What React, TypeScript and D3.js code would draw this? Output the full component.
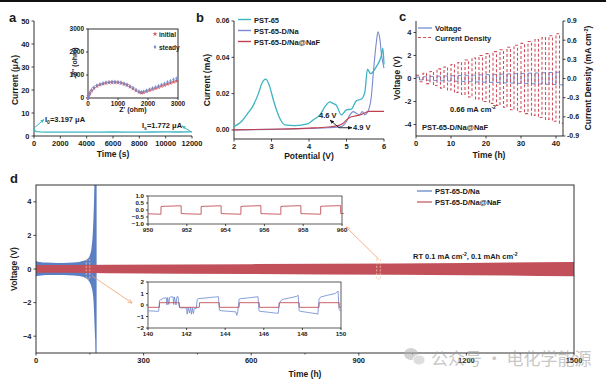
import React from "react";
import * as d3 from "d3";

const FONT = "'Liberation Sans', Arial, Helvetica, sans-serif";
const INK = "#1a1a1a";
const TEAL = "#3cb4c2";
const BLUE_B = "#7b88d0";
const RED_B = "#c0404e";
const BLUE = "#5b7fc4";
const RED = "#c2505a";

// ---------- Panel a ----------
const aTime = [0, 60, 200, 500, 1000, 2000, 3000, 4000, 5000, 6000, 7000, 8000, 9000, 10000, 11000, 11800, 12000];
const aCurrent = [3.197, 2.3, 1.9, 1.75, 1.7, 1.68, 1.7, 1.72, 1.7, 1.74, 1.72, 1.7, 1.74, 1.76, 1.75, 1.77, 1.772];
const aTicksX = [0, 2000, 4000, 6000, 8000, 10000, 12000];
const aTicksY = [0, 10, 20, 30, 40, 50];
const nyqTicks = [0, 1000, 2000, 3000];
const nyqZre = [0, 20, 60, 120, 200, 300, 400, 500, 600, 700, 800, 900, 1000, 1100, 1200, 1300, 1400, 1500, 1600, 1700, 1780, 1850, 1950, 2050, 2150, 2250, 2350, 2450, 2550, 2650, 2750, 2850, 2950];
const nyqInitial = [0, 90, 200, 320, 430, 520, 580, 620, 650, 670, 680, 680, 670, 650, 610, 560, 490, 410, 330, 260, 230, 250, 290, 340, 380, 420, 470, 520, 560, 610, 650, 700, 740];
const nyqSteady = [0, 100, 220, 340, 450, 540, 600, 640, 670, 690, 700, 700, 690, 670, 630, 580, 510, 430, 350, 280, 250, 270, 320, 370, 420, 470, 520, 580, 630, 690, 740, 800, 850];

// ---------- Panel b ----------
const bTicksX = [2, 3, 4, 5, 6];
const bTicksY = [0, 0.02, 0.04, 0.06];
const pst65V = [2.0, 2.2, 2.37, 2.5, 2.65, 2.75, 2.85, 2.95, 3.05, 3.15, 3.22, 3.36, 3.62, 3.98, 4.11, 4.29, 4.45, 4.55, 4.62, 4.73, 4.86, 5.0, 5.13, 5.26, 5.4, 5.49, 5.56, 5.64, 5.8, 5.93, 5.97, 6.0];
const pst65I = [0.0018, 0.0046, 0.0092, 0.013, 0.02, 0.026, 0.028, 0.024, 0.0165, 0.01, 0.0064, 0.0028, 0.0024, 0.0035, 0.0055, 0.0083, 0.0135, 0.0155, 0.0148, 0.0136, 0.0083, 0.011, 0.0115, 0.016, 0.017, 0.021, 0.0335, 0.031, 0.035, 0.041, 0.045, 0.036];
const dnaV = [2.0, 3.0, 4.0, 4.5, 4.75, 4.86, 5.0, 5.09, 5.18, 5.26, 5.35, 5.42, 5.49, 5.57, 5.66, 5.73, 5.8, 5.84, 5.89, 5.93, 5.97, 6.0];
const dnaI = [0.0, 0.0003, 0.0008, 0.0012, 0.0015, 0.0018, 0.0046, 0.0083, 0.0101, 0.0092, 0.0083, 0.0101, 0.0083, 0.0101, 0.018, 0.0349, 0.049, 0.054, 0.05, 0.042, 0.037, 0.034];
const nafV = [2.0, 3.0, 4.0, 4.5, 4.8, 4.9, 5.0, 5.1, 5.2, 5.3, 5.4, 5.5, 5.6, 5.7, 6.0];
const nafI = [0.0, 0.0004, 0.001, 0.0016, 0.0025, 0.0035, 0.0055, 0.007, 0.0075, 0.008, 0.0085, 0.0095, 0.0102, 0.0102, 0.0102];

// ---------- Panel c ----------
const cTicksX = [0, 10, 20, 30, 40];
const cTicksYL = [-4, -2, 0, 2, 4];
const cTicksYR = [-0.9, -0.6, -0.3, 0, 0.3, 0.6, 0.9];
const cCurrentAmp = [0.05, 0.08, 0.11, 0.15, 0.18, 0.22, 0.25, 0.29, 0.32, 0.36, 0.39, 0.42, 0.45, 0.49, 0.52, 0.55, 0.58, 0.61, 0.64, 0.67, 0.7];
const cVoltageAmp = [0.12, 0.15, 0.18, 0.2, 0.22, 0.24, 0.26, 0.28, 0.3, 0.32, 0.34, 0.36, 0.38, 0.4, 0.42, 0.44, 0.46, 0.48, 0.5, 0.52, 0.55];

// ---------- Panel d ----------
const dTicksX = [0, 300, 600, 900, 1200, 1500];
const dMinorX = [150, 450, 750, 1050, 1350];
const dTicksY = [-4, -2, 0, 2, 4];
const dNaTime = [0, 3, 10, 30, 60, 90, 120, 135, 145, 150, 155, 158, 160, 162, 163, 165, 166, 169];
const dNaUpper = [0.48, 0.45, 0.42, 0.38, 0.36, 0.37, 0.42, 0.5, 0.62, 0.8, 1.3, 2.0, 2.9, 4.2, 5, 5, 5, 5];
const dNaLower = [-0.45, -0.42, -0.4, -0.36, -0.35, -0.37, -0.42, -0.5, -0.65, -0.8, -1.1, -1.4, -1.8, -2.6, -3.2, -4.2, -5, -5];
const dNaFTime = [0, 100, 200, 400, 600, 800, 1000, 1200, 1400, 1500];
const dNaFUpper = [0.24, 0.24, 0.25, 0.27, 0.29, 0.31, 0.33, 0.36, 0.4, 0.42];
const dNaFLower = [-0.22, -0.23, -0.25, -0.28, -0.3, -0.32, -0.34, -0.37, -0.41, -0.43];
const inset1TicksX = [950, 952, 954, 956, 958, 960];
const inset1TicksY = [-1, -0.5, 0, 0.5, 1];
// [start, end, value at start, value at end]
const inset1Red: [number, number, number, number][] = [
  [950, 950.67, -0.27, -0.3], [950.67, 951.71, 0.25, 0.3], [951.71, 952.74, -0.25, -0.3],
  [952.74, 953.77, 0.25, 0.3], [953.77, 954.79, -0.25, -0.3], [954.79, 955.82, 0.25, 0.31],
  [955.82, 956.85, -0.25, -0.3], [956.85, 957.88, 0.25, 0.31], [957.88, 958.9, -0.25, -0.3],
  [958.9, 959.93, 0.26, 0.31], [959.93, 960, -0.25, -0.25],
];
const inset2TicksX = [140, 142, 144, 146, 148, 150];
const inset2TicksY = [-2, -1, 0, 1, 2];
const inset2Red: [number, number][] = [
  [140, -0.2], [140.59, -0.2], [140.6, 0.2], [141.62, 0.2], [141.63, -0.2], [142.66, -0.2], [142.67, 0.2],
  [143.69, 0.2], [143.7, -0.2], [144.72, -0.2], [144.73, 0.2], [145.76, 0.2], [145.77, -0.2], [146.79, -0.2],
  [146.8, 0.2], [147.83, 0.2], [147.84, -0.2], [148.86, -0.2], [148.87, 0.2], [149.9, 0.2], [149.91, -0.2], [150, -0.2],
];
const inset2Blue: [number, number][] = [
  [140, -0.5], [140.5, -0.55], [140.55, -0.55], [140.6, 0.4], [140.8, 0.6], [140.95, 0.62], [140.98, 0.0],
  [141.02, 0.65], [141.08, 0.05], [141.12, 0.65], [141.16, 0.7], [141.3, 0.7], [141.33, 0.05], [141.37, 0.7],
  [141.45, 0.0], [141.5, 0.72], [141.56, 0.72], [141.6, 0.0], [141.63, -0.2], [141.7, -0.25], [141.9, -0.25],
  [142.0, -0.3], [142.03, -0.8], [142.08, -0.2], [142.15, -0.7], [142.2, -0.2], [142.25, -0.8], [142.3, -0.25],
  [142.35, -0.75], [142.4, -0.3], [142.5, -0.3], [142.55, 0.5], [142.6, 0.55], [142.9, 0.6], [143.2, 0.65],
  [143.5, 0.7], [143.65, 0.72], [143.7, -0.45], [143.8, -0.5], [144.2, -0.55], [144.55, -0.6], [144.6, -0.9],
  [144.65, -0.6], [144.72, 0.5], [144.8, 0.55], [145.2, 0.62], [145.6, 0.7], [145.7, 0.72], [145.75, -0.5],
  [145.8, -0.55], [146.2, -0.62], [146.6, -0.7], [146.75, -0.72], [146.8, 0.15], [146.9, 0.4], [147.0, 0.5],
  [147.3, 0.6], [147.7, 0.75], [147.78, 0.85], [147.83, -0.5], [147.9, -0.55], [148.3, -0.65], [148.7, -0.75],
  [148.8, -0.8], [148.86, 0.5], [148.95, 0.7], [149.3, 0.85], [149.7, 1.0], [149.8, 1.15], [149.85, 1.2],
  [149.9, -0.4], [150, -0.55],
];

type Sc = d3.ScaleLinear<number, number>;

const T = (p: any) => <text fontFamily={FONT} fontWeight="bold" fill={INK} {...p} />;

function BottomAxis({ x, y, ticks, minor = [], fmt = (v: number) => String(v), fs = 7.5, len = 2.5, gap = 9.5, line = true }: any) {
  const [r0, r1] = (x as Sc).range();
  return (
    <g>
      {line && <line x1={r0} x2={r1} y1={y} y2={y} stroke={INK} strokeWidth={0.9} />}
      {ticks.map((t: number) => (
        <g key={t}>
          <line x1={x(t)} x2={x(t)} y1={y} y2={y + len} stroke={INK} strokeWidth={0.8} />
          <T x={x(t)} y={y + gap} fontSize={fs} textAnchor="middle">{fmt(t)}</T>
        </g>
      ))}
      {minor.map((t: number) => (
        <line key={"m" + t} x1={x(t)} x2={x(t)} y1={y} y2={y + len * 0.6} stroke={INK} strokeWidth={0.7} />
      ))}
    </g>
  );
}

function LeftAxis({ y, x, ticks, fmt = (v: number) => String(v), fs = 7.5, len = 2.5, gap = 4, line = true }: any) {
  const [r0, r1] = (y as Sc).range();
  return (
    <g>
      {line && <line x1={x} x2={x} y1={r0} y2={r1} stroke={INK} strokeWidth={0.9} />}
      {ticks.map((t: number) => (
        <g key={t}>
          <line x1={x - len} x2={x} y1={y(t)} y2={y(t)} stroke={INK} strokeWidth={0.8} />
          <T x={x - len - gap + 2} y={y(t) + fs * 0.35} fontSize={fs} textAnchor="end">{fmt(t)}</T>
        </g>
      ))}
    </g>
  );
}

function RightAxis({ y, x, ticks, fmt = (v: number) => String(v), fs = 7.5, len = 2.5 }: any) {
  const [r0, r1] = (y as Sc).range();
  return (
    <g>
      <line x1={x} x2={x} y1={r0} y2={r1} stroke={INK} strokeWidth={0.9} />
      {ticks.map((t: number) => (
        <g key={t}>
          <line x1={x} x2={x + len} y1={y(t)} y2={y(t)} stroke={INK} strokeWidth={0.8} />
          <T x={x + len + 1.5} y={y(t) + fs * 0.35} fontSize={fs} textAnchor="start">{fmt(t)}</T>
        </g>
      ))}
    </g>
  );
}

const minus = (s: string) => s.replace("-", "\u2212");

export default function App() {
  // scales
  const xA = d3.scaleLinear().domain([0, 12000]).range([34, 192]);
  const yA = d3.scaleLinear().domain([0, 50]).range([136, 21]);
  const xAi = d3.scaleLinear().domain([0, 3000]).range([88, 178]);
  const yAi = d3.scaleLinear().domain([0, 3000]).range([98, 29]);
  const xB = d3.scaleLinear().domain([2, 6]).range([234, 384]);
  const yB = d3.scaleLinear().domain([-0.005, 0.06]).range([139, 21]);
  const xC = d3.scaleLinear().domain([0, 42]).range([416, 563]);
  const yCL = d3.scaleLinear().domain([-5, 5]).range([136, 21]);
  const yCR = d3.scaleLinear().domain([-0.9, 0.9]).range([136, 21]);
  const xD = d3.scaleLinear().domain([0, 1500]).range([36, 574]);
  const yD = d3.scaleLinear().domain([-5, 5]).range([353, 185]);
  const xD1 = d3.scaleLinear().domain([950, 960]).range([148, 342]);
  const yD1 = d3.scaleLinear().domain([-1, 1]).range([224, 196]);
  const xD2 = d3.scaleLinear().domain([140, 150]).range([148, 341]);
  const yD2 = d3.scaleLinear().domain([-2, 2]).range([328, 282]);

  const lineXY = (xs: Sc, ys: Sc) => d3.line<[number, number]>().x((d) => xs(d[0])).y((d) => ys(d[1]));
  const zip = (a: number[], b: number[]) => a.map((v, i) => [v, b[i]] as [number, number]);

  const aPath = lineXY(xA, yA)(zip(aTime, aCurrent)) || "";
  const pstPath = lineXY(xB, yB).curve(d3.curveMonotoneX)(zip(pst65V, pst65I)) || "";
  const dnaPath = lineXY(xB, yB).curve(d3.curveMonotoneX)(zip(dnaV, dnaI)) || "";
  const nafPath = lineXY(xB, yB).curve(d3.curveMonotoneX)(zip(nafV, nafI)) || "";

  const cCur: [number, number][] = [];
  cCurrentAmp.forEach((a, k) => {
    cCur.push([2 * k, a], [2 * k + 1, a], [2 * k + 1, -a], [2 * k + 2, -a]);
  });
  const cVol: [number, number][] = [];
  cVoltageAmp.forEach((a, k) => {
    cVol.push([2 * k, a], [2 * k + 1, a], [2 * k + 1, -a], [2 * k + 2, -a]);
  });
  const cCurPath = lineXY(xC, yCR)(cCur) || "";
  const cVolPath = lineXY(xC, yCL)(cVol) || "";

  const naArea =
    d3.area<number>().x((_, i) => xD(dNaTime[i])).y0((_, i) => yD(dNaLower[i])).y1((_, i) => yD(dNaUpper[i])).curve(d3.curveMonotoneX)(dNaTime) || "";
  const nafArea =
    d3.area<number>().x((_, i) => xD(dNaFTime[i])).y0((_, i) => yD(dNaFLower[i])).y1((_, i) => yD(dNaFUpper[i]))(dNaFTime) || "";

  const in1Pts: [number, number][] = [];
  inset1Red.forEach(([s, e, v0, v1]) => {
    in1Pts.push([s, v0], [s + 0.15, (v0 * 2 + v1) / 3], [e, v1]);
  });
  const in1Path = lineXY(xD1, yD1)(in1Pts) || "";
  const in2Red = lineXY(xD2, yD2)(inset2Red) || "";
  const in2Blue = lineXY(xD2, yD2)(inset2Blue) || "";

  const starSym = d3.symbol().type(d3.symbolStar).size(7)() || "";
  const diaSym = d3.symbol().type(d3.symbolDiamond).size(6)() || "";

  const fmt2 = (v: number) => v.toFixed(2);
  const fmt1 = (v: number) => v.toFixed(1);

  return (
    <svg width={606} height={383} style={{ position: "absolute", left: 0, top: 0, background: "#fff" }} fontFamily={FONT}>
      <defs>
        <marker id="ahk" viewBox="0 0 10 10" refX="9" refY="5" markerWidth="5" markerHeight="5" orient="auto">
          <path d="M0,1 L10,5 L0,9 z" fill={INK} />
        </marker>
        <marker id="aht" viewBox="0 0 10 10" refX="9" refY="5" markerWidth="4" markerHeight="4" orient="auto">
          <path d="M0,1 L10,5 L0,9 z" fill={TEAL} />
        </marker>
        <marker id="aho" viewBox="0 0 10 10" refX="9" refY="5" markerWidth="6" markerHeight="6" orient="auto">
          <path d="M0,1 L10,5 L0,9" fill="none" stroke="#f0a070" strokeWidth={1.3} />
        </marker>
        <clipPath id="clipD">
          <rect x={36} y={185} width={538} height={168} />
        </clipPath>
      </defs>
      <rect x={0} y={0} width={606} height={383} fill="#fff" />
      <rect x={0} y={0} width={606} height={2} fill="#111" />

      {/* ================= Panel a ================= */}
      <T x={9} y={22} fontSize={13}>a</T>
      <LeftAxis y={yA} x={34} ticks={aTicksY} />
      <BottomAxis x={xA} y={136} ticks={aTicksX} />
      <T transform="rotate(-90,18,80)" x={18} y={80} fontSize={8.5} textAnchor="middle">Current (μA)</T>
      <T x={113} y={157} fontSize={8.5} textAnchor="middle">Time (s)</T>
      <path d={aPath} fill="none" stroke={TEAL} strokeWidth={1.3} />
      <line x1={xA(40)} y1={yA(3.6)} x2={44} y2={yA(7.2)} stroke={TEAL} strokeWidth={1} markerEnd="url(#aht)" />
      <T x={45} y={122} fontSize={7.5}>
        I<tspan fontSize={5} dy={1.8}>0</tspan>
        <tspan dy={-1.8}>=3.197 μA</tspan>
      </T>
      <line x1={xA(11950)} y1={yA(1.8)} x2={182} y2={126} stroke={TEAL} strokeWidth={1} markerEnd="url(#aht)" />
      <T x={142} y={128} fontSize={7.5}>
        I<tspan fontSize={5} dy={1.8}>s</tspan>
        <tspan dy={-1.8}>=1.772 μA</tspan>
      </T>
      {/* inset a */}
      <rect x={88} y={29} width={90} height={69} fill="#fff" stroke={INK} strokeWidth={0.9} />
      <LeftAxis y={yAi} x={88} ticks={nyqTicks} fs={6.5} len={2} line={false} />
      <BottomAxis x={xAi} y={98} ticks={nyqTicks} fs={6.5} len={2} gap={8} line={false} />
      <T x={133} y={112} fontSize={7} textAnchor="middle">Z' (ohm)</T>
      <T transform="rotate(-90,77,63)" x={77} y={63} fontSize={7} textAnchor="middle">-Z'' (ohm)</T>
      {nyqZre.map((z, i) => (
        <path key={"i" + i} d={starSym} transform={`translate(${xAi(z)},${yAi(nyqInitial[i])})`} fill="#d0505a" />
      ))}
      {nyqZre.map((z, i) => (
        <path key={"s" + i} d={diaSym} transform={`translate(${xAi(z)},${yAi(nyqSteady[i])})`} fill="#6f8fd0" opacity={0.85} />
      ))}
      <path d={starSym} transform="translate(155,34)" fill="#d0505a" />
      <T x={159} y={36.5} fontSize={6.5}>initial</T>
      <path d={diaSym} transform="translate(155,47)" fill="#6f8fd0" />
      <T x={159} y={49.5} fontSize={6.5}>steady</T>

      {/* ================= Panel b ================= */}
      <T x={196} y={22} fontSize={13}>b</T>
      <LeftAxis y={yB} x={234} ticks={bTicksY} fmt={fmt2} fs={7} />
      <BottomAxis x={xB} y={139} ticks={bTicksX} fs={7.5} />
      <T transform="rotate(-90,210,80)" x={210} y={80} fontSize={8.5} textAnchor="middle">Current (mA)</T>
      <T x={309} y={159} fontSize={8.5} textAnchor="middle">Potential (V)</T>
      <path d={pstPath} fill="none" stroke={TEAL} strokeWidth={1.3} />
      <path d={dnaPath} fill="none" stroke={BLUE_B} strokeWidth={1.1} />
      <path d={nafPath} fill="none" stroke={RED_B} strokeWidth={1.1} />
      <line x1={238} x2={251} y1={19.5} y2={19.5} stroke={TEAL} strokeWidth={1.4} />
      <T x={254} y={22.5} fontSize={7.5}>PST-65</T>
      <line x1={238} x2={251} y1={30.5} y2={30.5} stroke={BLUE_B} strokeWidth={1.4} />
      <T x={254} y={33.5} fontSize={7.5}>PST-65-D/Na</T>
      <line x1={238} x2={251} y1={41.5} y2={41.5} stroke={RED_B} strokeWidth={1.4} />
      <T x={254} y={44.5} fontSize={7.5}>PST-65-D/Na@NaF</T>
      <line x1={xB(4.8)} y1={yB(0.0012)} x2={330} y2={120} stroke={INK} strokeWidth={0.9} markerEnd="url(#ahk)" />
      <T x={319} y={118} fontSize={7.5}>4.6 V</T>
      <line x1={xB(4.8)} y1={yB(0.0012)} x2={352} y2={yB(0.0012)} stroke={INK} strokeWidth={0.9} markerEnd="url(#ahk)" />
      <T x={353} y={yB(0.0012) + 2.7} fontSize={7.5}>4.9 V</T>

      {/* ================= Panel c ================= */}
      <T x={399} y={21} fontSize={13}>c</T>
      <path d={cVolPath} fill="none" stroke="#6a86d0" strokeWidth={0.9} />
      <path d={cCurPath} fill="none" stroke="#d0505e" strokeWidth={1.1} strokeDasharray="3,2" />
      <LeftAxis y={yCL} x={416} ticks={cTicksYL} />
      <RightAxis y={yCR} x={563} ticks={cTicksYR} fmt={fmt1} fs={7} />
      <BottomAxis x={xC} y={136} ticks={cTicksX} />
      <T transform="rotate(-90,400,78)" x={400} y={78} fontSize={8.5} textAnchor="middle">Voltage (V)</T>
      <T transform="rotate(-90,591,78)" x={591} y={78} fontSize={8.5} textAnchor="middle">
        Current Density (mA cm<tspan fontSize={5.5} dy={-3}>-2</tspan><tspan dy={3}>)</tspan>
      </T>
      <T x={489} y={158} fontSize={8.5} textAnchor="middle">Time (h)</T>
      <line x1={418} x2={432} y1={28} y2={28} stroke="#6a86d0" strokeWidth={1.2} />
      <T x={435} y={31} fontSize={7.5}>Voltage</T>
      <line x1={418} x2={432} y1={37.5} y2={37.5} stroke="#d0505e" strokeWidth={1.2} strokeDasharray="3,2" />
      <T x={435} y={40.5} fontSize={7.5}>Current Density</T>
      <T x={450} y={112} fontSize={7.5}>
        0.66 mA cm<tspan fontSize={5} dy={-3}>-2</tspan>
      </T>
      <T x={422} y={130} fontSize={7.5}>PST-65-D/Na@NaF</T>

      {/* ================= Panel d ================= */}
      <T x={10} y={183} fontSize={13}>d</T>
      <g clipPath="url(#clipD)">
        <path d={naArea} fill={BLUE} />
        <path d={nafArea} fill={RED} />
      </g>
      <rect x={36} y={185} width={538} height={168} fill="none" stroke="#333" strokeWidth={1} />
      <LeftAxis y={yD} x={36} ticks={dTicksY} fmt={(v: number) => minus(String(v))} line={false} />
      <BottomAxis x={xD} y={353} ticks={dTicksX} minor={dMinorX} line={false} gap={10} />
      <T transform="rotate(-90,17,269)" x={17} y={269} fontSize={8.5} textAnchor="middle">Voltage (V)</T>
      <T x={305} y={377} fontSize={8.5} textAnchor="middle">Time (h)</T>
      {/* dashed markers */}
      <rect x={xD(140)} y={yD(0.6)} width={xD(150) - xD(140)} height={yD(-0.6) - yD(0.6)} fill="none" stroke="#f4c6a8" strokeWidth={0.8} strokeDasharray="2,1.5" />
      <rect x={xD(950)} y={yD(0.6)} width={xD(960) - xD(950)} height={yD(-0.6) - yD(0.6)} fill="none" stroke="#f4c6a8" strokeWidth={0.8} strokeDasharray="2,1.5" />
      <line x1={xD(150) + 2} y1={yD(-0.4)} x2={132} y2={303} stroke="#f0a070" strokeWidth={0.8} markerEnd="url(#aho)" />
      <line x1={xD(955)} y1={yD(0.6)} x2={346} y2={227} stroke="#f0a070" strokeWidth={0.8} markerEnd="url(#aho)" />
      {/* inset 1 */}
      <rect x={148} y={196} width={194} height={28} fill="#fff" stroke="#333" strokeWidth={0.8} />
      <LeftAxis y={yD1} x={148} ticks={inset1TicksY} fmt={(v: number) => minus(fmt1(v))} fs={6.2} len={2} line={false} />
      <BottomAxis x={xD1} y={224} ticks={inset1TicksX} fs={6.2} len={2} gap={7.5} line={false} />
      <path d={in1Path} fill="none" stroke={RED} strokeWidth={0.9} />
      {/* inset 2 */}
      <rect x={148} y={282} width={193} height={46} fill="#fff" stroke="#333" strokeWidth={0.8} />
      <LeftAxis y={yD2} x={148} ticks={inset2TicksY} fmt={(v: number) => minus(String(v))} fs={6.2} len={2} line={false} />
      <BottomAxis x={xD2} y={328} ticks={inset2TicksX} fs={6.2} len={2} gap={7.5} line={false} />
      <path d={in2Blue} fill="none" stroke="#6a86d0" strokeWidth={0.8} />
      <path d={in2Red} fill="none" stroke={RED} strokeWidth={0.9} />
      {/* legend d */}
      <line x1={417} x2={432} y1={191} y2={191} stroke={BLUE} strokeWidth={1.2} />
      <T x={435} y={194} fontSize={7.5}>PST-65-D/Na</T>
      <line x1={417} x2={432} y1={202} y2={202} stroke={RED} strokeWidth={1.2} />
      <T x={435} y={205} fontSize={7.5}>PST-65-D/Na@NaF</T>
      <T x={413} y={259} fontSize={7.5}>
        RT  0.1 mA cm<tspan fontSize={5} dy={-3}>-2</tspan>
        <tspan dy={3}>,  0.1 mAh cm</tspan>
        <tspan fontSize={5} dy={-3}>-2</tspan>
      </T>

      {/* watermark */}
      <g opacity={0.55}>
        <ellipse cx={411} cy={354} rx={7} ry={6} fill="#b0b0b0" />
        <ellipse cx={419} cy={360} rx={6} ry={5} fill="#c4c4c4" stroke="#fff" strokeWidth={0.8} />
        <text x={431} y={365} fontSize={17} fill="#9a9a9a" fontFamily="'Noto Sans CJK SC', sans-serif">公众号 · 电化学能源</text>
      </g>
    </svg>
  );
}
